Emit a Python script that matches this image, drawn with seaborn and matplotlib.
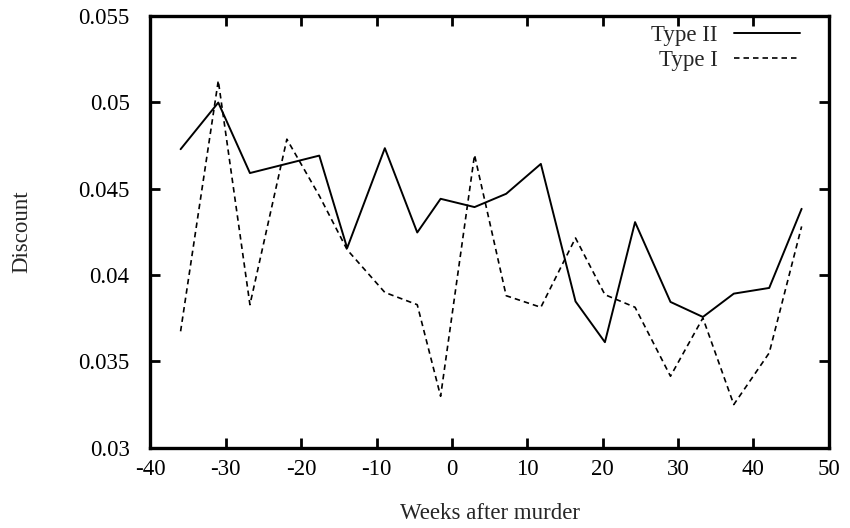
import matplotlib
matplotlib.use("Agg")
import matplotlib.pyplot as plt
import seaborn as sns
import pandas as pd

weeks = [-36.0, -31.0, -26.8, -21.9, -17.6, -13.9, -8.9, -4.6, -1.5, 3.0,
         7.2, 11.8, 16.4, 20.3, 24.3, 29.0, 33.3, 37.4, 42.1, 46.4]
type_ii = [0.04728, 0.04998, 0.04590, None, 0.04691, 0.04156, 0.04734, 0.04246, 0.04441, 0.04393,
           0.04470, 0.04643, 0.03847, 0.03611, 0.04306, 0.03844, 0.03757, 0.03892, 0.03925, 0.04383]
type_i = [0.03674, 0.05125, 0.03828, 0.04786, 0.04459, 0.04146, 0.03899, 0.03828, 0.03298, 0.04695,
          0.03880, 0.03813, 0.04214, 0.03886, 0.03813, 0.03414, 0.03751, 0.03250, 0.03549, 0.04281]

sns.set_theme(style="white")
plt.rcParams['font.family'] = ['Liberation Serif', 'DejaVu Serif']

df2 = pd.DataFrame({"x": weeks, "y": type_ii}).dropna()
df1 = pd.DataFrame({"x": weeks, "y": type_i})

fs = 16.5
fig = plt.figure(figsize=(8.5, 5.28), dpi=100)
ax = fig.add_axes([0.177, 0.152, 0.798, 0.818])

sns.lineplot(data=df2, x="x", y="y", ax=ax, color="black", linewidth=1.4,
             label="Type II", estimator=None, sort=False)
sns.lineplot(data=df1, x="x", y="y", ax=ax, color="black", linewidth=1.2,
             linestyle=(0, (3.3, 2.4)), label="Type I", estimator=None, sort=False)

ax.set_xlim(-40, 50)
ax.set_ylim(0.03, 0.055)
ax.set_xticks(range(-40, 51, 10))
ax.set_yticks([0.03, 0.035, 0.04, 0.045, 0.05, 0.055])
ax.set_yticklabels(["0.03", "0.035", "0.04", "0.045", "0.05", "0.055"])
ax.set_xticklabels([str(v) for v in range(-40, 51, 10)])

for s in ax.spines.values():
    s.set_visible(True)
    s.set_linewidth(2.4)
    s.set_color("black")

ax.tick_params(axis="both", which="major", direction="in", length=7, width=2.0,
               top=True, right=True, bottom=True, left=True,
               labelsize=fs, colors="black")
ax.tick_params(axis="x", pad=8)
ax.tick_params(axis="y", pad=15)

ax.set_xlabel("Weeks after murder", fontsize=fs, labelpad=17)
ax.set_ylabel("Discount", fontsize=fs, labelpad=33)

leg = ax.legend(loc="upper right", bbox_to_anchor=(1 - 0.0354, 1 - 0.0116),
                frameon=False, markerfirst=False,
                fontsize=fs, handlelength=2.9, handletextpad=0.7,
                borderaxespad=0.0, borderpad=0.2, labelspacing=0.17)
for t in leg.get_texts():
    t.set_ha("right")

fig.savefig("out.png", dpi=100)
